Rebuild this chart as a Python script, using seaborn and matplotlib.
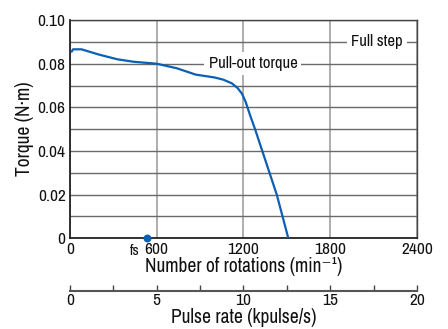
import numpy as np
import pandas as pd
import matplotlib
matplotlib.use("Agg")
import matplotlib.pyplot as plt
import seaborn as sns

# pull-out torque curve, full step
rpm = [12, 22, 80, 200, 330, 440, 600, 740, 870, 1000, 1060, 1120, 1160,
       1190, 1215, 1245, 1280, 1330, 1380, 1430, 1470, 1510]
torque = [0.0855, 0.0866, 0.0866, 0.0842, 0.0820, 0.0809, 0.0800, 0.0779,
          0.0750, 0.0737, 0.0727, 0.0710, 0.0688, 0.0662, 0.0625, 0.0565,
          0.0500, 0.0400, 0.0300, 0.0200, 0.0100, 0.0]

fs_rpm = 530
x_ticks = [0, 600, 1200, 1800, 2400]
y_ticks = [0, 0.02, 0.04, 0.06, 0.08, 0.10]
y_labels = ["0", "0.02", "0.04", "0.06", "0.08", "0.10"]
pulse_ticks = [0, 5, 10, 15, 20]

sns.set_style("white")
plt.rcParams['font.family'] = ['Archivo Narrow', 'DejaVu Sans']
plt.rcParams['text.color'] = '#111111'
plt.rcParams['axes.labelcolor'] = '#111111'
plt.rcParams['xtick.color'] = '#111111'
plt.rcParams['ytick.color'] = '#111111'

df = pd.DataFrame({'rpm': rpm, 'torque': torque})

fig = plt.figure(figsize=(4.48, 3.29), dpi=100)
ax = fig.add_axes([0.156, 0.2757, 0.775, 0.6633])

line_color = '#0b5fb5'
sns.lineplot(data=df, x='rpm', y='torque', ax=ax, color=line_color,
             linewidth=1.6, estimator=None, sort=True, zorder=6)
ax.scatter([fs_rpm], [0], color=line_color, s=22, zorder=7, clip_on=False)
ax.annotate('fs', xy=(fs_rpm, 0), xytext=(fs_rpm - 85, -0.0058),
            fontsize=11, ha='center', va='center', annotation_clip=False,
            arrowprops=dict(arrowstyle='-', color='#333333', lw=0.8,
                            shrinkA=4, shrinkB=2))

ax.set_xlim(0, 2400)
ax.set_ylim(0, 0.10)
ax.set_xticks(x_ticks)
ax.set_yticks(y_ticks)
ax.set_yticklabels(y_labels)
ax.set_yticks(np.arange(0.01, 0.10, 0.02), minor=True)
ax.tick_params(axis='both', which='both', length=0, labelsize=12.5, pad=3)
ax.grid(axis='y', which='both', color='#6a6a6a', linewidth=1.0, zorder=1)
ax.grid(axis='x', which='major', color='#a0a0a0', linewidth=1.2, zorder=1)
ax.set_axisbelow(True)
for side in ['left', 'bottom']:
    ax.spines[side].set_color('#222222')
    ax.spines[side].set_linewidth(1.3)
for side in ['top', 'right']:
    ax.spines[side].set_color('#444444')
    ax.spines[side].set_linewidth(1.0)

ax.set_xlabel('Number of rotations (min\u207b\u00b9)', fontsize=14, labelpad=0)
ax.set_ylabel('Torque (N\u00b7m)', fontsize=14, labelpad=3)

box = dict(facecolor='white', edgecolor='none', pad=3)
ax.text(1265, 0.08, 'Pull-out torque', ha='center', va='center',
        fontsize=12, bbox=box, zorder=4)
ax.text(2125, 0.09, 'Full step', ha='center', va='center',
        fontsize=12, bbox=box, zorder=4)

sec = ax.secondary_xaxis(-0.24, functions=(lambda x: x / 120.0,
                                           lambda p: p * 120.0))
sec.set_xticks(pulse_ticks)
sec.set_xticks([2.5, 7.5, 12.5, 17.5], minor=True)
sec.tick_params(axis='x', which='both', direction='in', length=4,
                width=1.0, color='#444444', labelsize=12.5, pad=2)
sec.spines['bottom'].set_color('#555555')
sec.spines['bottom'].set_linewidth(1.5)
sec.set_xlabel('Pulse rate (kpulse/s)', fontsize=14, labelpad=0)

fig.savefig('out.png', dpi=100)
